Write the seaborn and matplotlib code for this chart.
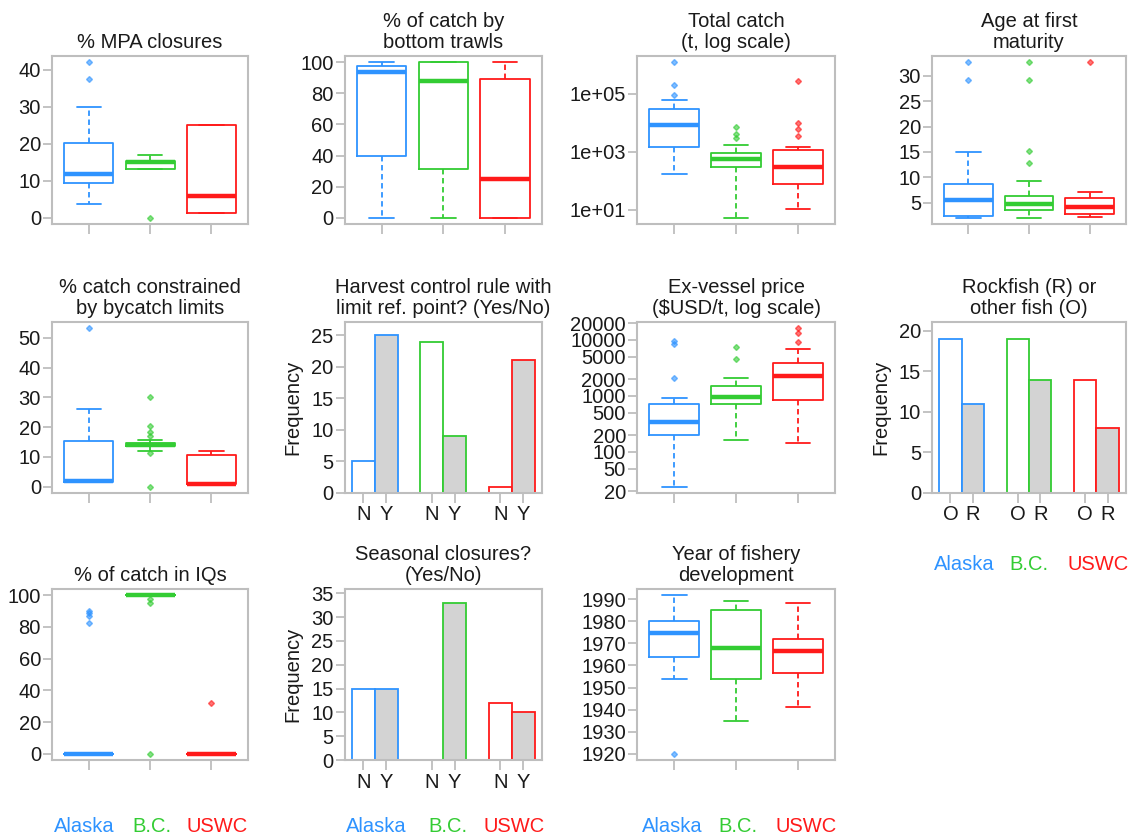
import numpy as np
import pandas as pd
import matplotlib
matplotlib.use("Agg")
import matplotlib.pyplot as plt
from matplotlib.ticker import FixedLocator, NullLocator
import seaborn as sns

# ---------------------------------------------------------------- data
regions = ["Alaska", "B.C.", "USWC"]
region_colors = ["#2E93FF", "#33CC33", "#FF1A1A"]

# % of area in MPA closures
mpa_alaska = [3.6, 6.5, 8.2, 9.3, 10.4, 11.2, 11.9, 13.5, 16.8, 20.2, 30.0, 37.5, 42.0]
mpa_bc = [0.0, 13.3, 13.3, 14.2, 15.0, 15.1, 15.2, 16.1, 16.9]
mpa_uswc = [1.2, 1.2, 5.9, 25.0, 25.0]

# % of catch taken by bottom trawls
trawl_alaska = [0, 12, 39.5, 71, 93.9, 96, 97.5, 99, 100]
trawl_bc = [0, 8, 31.6, 60, 88.2, 100, 100, 100, 100]
trawl_uswc = [0, 0, 0, 10, 24.7, 60, 89.2, 95, 100]

# total catch (t)
catch_alaska = [170, 400, 800, 1100, 1480, 2500, 4000, 6000, 8100, 12000, 17000,
                22000, 28500, 60000, 93000, 200000, 1200000]
catch_bc = [5.4, 60, 150, 250, 300, 380, 450, 520, 560, 620, 700, 800, 900,
            1750, 3100, 4100, 7300]
catch_uswc = [11, 25, 40, 55, 70, 80, 120, 170, 210, 250, 290, 380, 500, 650,
              850, 1120, 1480, 3500, 6000, 9500, 280000]

# age at first maturity (years)
age_alaska = [2.0, 2.1, 2.2, 2.3, 3.5, 4.5, 5.45, 6.0, 7.0, 8.7, 15.0, 29.2, 32.7]
age_bc = [2.0, 2.5, 3.0, 3.2, 3.4, 3.5, 3.8, 4.0, 4.3, 4.5, 4.7, 5.0, 5.3, 5.6,
          6.0, 6.2, 9.2, 12.9, 15.1, 29.2, 32.7]
age_uswc = [2.1, 2.4, 2.7, 3.5, 4.15, 5.0, 5.9, 7.1, 32.7]

# % of catch constrained by bycatch limits
bycatch_alaska = [1.7, 1.7, 1.7, 1.8, 1.9, 8.0, 15.5, 26.0, 53.2]
bycatch_bc = [0.0, 11.2, 12.1, 12.8, 13.2, 13.4, 13.6, 13.7, 13.8, 13.9, 14.0,
              14.0, 14.1, 14.2, 14.3, 14.4, 14.5, 14.5, 14.6, 15.2, 15.7, 16.9,
              18.3, 20.5, 30.2]
bycatch_uswc = [0.7, 0.8, 1.0, 10.8, 11.9]

# ex-vessel price ($USD/t)
price_alaska = [24, 60, 110, 160, 199, 230, 270, 310, 344, 400, 480, 600, 710,
                908, 2120, 8340, 9460]
price_bc = [162, 400, 600, 710, 800, 900, 960, 1050, 1250, 1490, 2120, 4640, 7500]
price_uswc = [147, 300, 500, 700, 860, 1100, 1500, 1900, 2240, 2600, 3000, 3500,
              3940, 6900, 9330, 13300, 16100]

# % of catch in individual quotas
iq_alaska = [0, 0, 0, 0, 0, 0, 0, 0, 0, 0, 0, 0, 0, 82.6, 87.0, 88.6, 90.0]
iq_bc = [0, 95.3, 97.5, 100, 100, 100, 100, 100, 100, 100, 100, 100, 100]
iq_uswc = [0, 0, 0, 0, 0, 0, 0, 0, 0, 32.2]

# year of fishery development
year_alaska = [1920, 1954, 1960, 1963.7, 1968, 1972, 1974.8, 1977, 1979, 1980.3,
               1984, 1988, 1991.8]
year_bc = [1935, 1945, 1953.9, 1962, 1967.8, 1976, 1985.3, 1988, 1989.1]
year_uswc = [1941.3, 1950, 1956.5, 1962, 1966.5, 1969, 1972.1, 1980, 1988.5]

# counts of stocks (No / Yes, Other / Rockfish)
hcr_no = [5, 24, 1]
hcr_yes = [25, 9, 21]
seasonal_no = [15, 0, 12]
seasonal_yes = [15, 33, 10]
other_fish = [19, 19, 14]
rockfish = [11, 14, 8]

# ---------------------------------------------------------------- style
sns.set_style("white")
plt.rcParams["font.family"] = ["Liberation Sans", "DejaVu Sans"]
FS = 14.5
plt.rcParams["font.size"] = FS

FRAME = "#BEBEBE"
TEXT = "#1A1A1A"
W, H = 1128, 839

fig = plt.figure(figsize=(W / 100, H / 100), dpi=100)
fig.patch.set_facecolor("white")

rows = [(56, 224), (322, 493), (589, 760)]
cols = [(52, 248), (344.5, 542), (637, 835), (932, 1126)]


def add_panel(r, c):
    top, bottom = rows[r]
    left, right = cols[c]
    return fig.add_axes([left / W, 1 - bottom / H, (right - left) / W, (bottom - top) / H])


def style_axes(ax, title):
    for s in ax.spines.values():
        s.set_visible(True)
        s.set_color(FRAME)
        s.set_linewidth(1.5)
    ax.tick_params(axis="both", colors=FRAME, labelcolor=TEXT, width=1.3,
                   labelsize=FS, direction="out")
    ax.tick_params(axis="y", left=True, length=6.5, pad=1.5)
    ax.tick_params(axis="x", bottom=True, length=7, pad=2)
    ax.set_title(title, fontsize=FS, pad=6, linespacing=1.12, color=TEXT)
    ax.grid(False)


def box_panel(ax, groups, title, yticks, ylabels, log=False):
    sizes = [len(g) for g in groups]
    df = pd.DataFrame({
        "region": np.repeat(regions, sizes),
        "value": np.concatenate([np.asarray(g, dtype=float) for g in groups]),
    })
    sns.boxplot(data=df, x="region", y="value", hue="region", order=regions,
                hue_order=regions, palette=region_colors, fill=False,
                legend=False, width=0.8, linewidth=1.3, whis=1.5, ax=ax,
                whiskerprops=dict(linestyle=(0, (3, 2))),
                medianprops=dict(linewidth=3.2),
                flierprops=dict(marker="D", markersize=3))
    for cont, col in zip(ax.containers, region_colors):
        for fl in cont.fliers:
            fl.set(marker="D", markersize=3, markerfacecolor=col,
                   markeredgecolor=col, alpha=0.6)
    vals = df["value"].to_numpy()
    if log:
        ax.set_yscale("log")
        lo, hi = np.log10(vals.min()), np.log10(vals.max())
        pad = 0.04 * (hi - lo)
        ax.set_ylim(10 ** (lo - pad), 10 ** (hi + pad))
    else:
        lo, hi = vals.min(), vals.max()
        pad = 0.04 * (hi - lo)
        ax.set_ylim(lo - pad, hi + pad)
    ax.set_xlim(-0.6, 2.6)
    ax.set_xticks(range(3))
    ax.set_xticklabels([])
    ax.yaxis.set_major_locator(FixedLocator(yticks))
    ax.yaxis.set_minor_locator(NullLocator())
    ax.set_yticklabels(ylabels)
    ax.set_xlabel("")
    ax.set_ylabel("")
    style_axes(ax, title)


def bar_panel(ax, first, second, levels, title, yticks, ytop):
    df = pd.DataFrame({
        "region": regions * 2,
        "answer": [levels[0]] * 3 + [levels[1]] * 3,
        "count": list(first) + list(second),
    })
    sns.barplot(data=df, x="region", y="count", hue="answer", order=regions,
                hue_order=levels, palette=["white", "#D3D3D3"], width=2 / 3,
                gap=0, errorbar=None, saturation=1, linewidth=1.3,
                edgecolor="black", legend=False, ax=ax)
    for cont in ax.containers:
        for bar, col in zip(cont, region_colors):
            bar.set_edgecolor(col)
    ax.set_xlim(-0.44, 2.44)
    ax.set_ylim(0, ytop)
    ax.set_xticks([i + d for i in range(3) for d in (-1 / 6, 1 / 6)])
    ax.set_xticklabels(levels * 3)
    ax.yaxis.set_major_locator(FixedLocator(yticks))
    ax.set_yticklabels([str(t) for t in yticks])
    ax.set_xlabel("")
    ax.set_ylabel("Frequency", fontsize=FS, labelpad=6, color=TEXT)
    style_axes(ax, title)


def num_labels(ticks):
    return [str(t) for t in ticks]


# ---------------------------------------------------------------- panels
ax = add_panel(0, 0)
t = [0, 10, 20, 30, 40]
box_panel(ax, [mpa_alaska, mpa_bc, mpa_uswc], "% MPA closures", t, num_labels(t))

ax = add_panel(0, 1)
t = [0, 20, 40, 60, 80, 100]
box_panel(ax, [trawl_alaska, trawl_bc, trawl_uswc], "% of catch by\nbottom trawls",
          t, num_labels(t))

ax = add_panel(0, 2)
box_panel(ax, [catch_alaska, catch_bc, catch_uswc], "Total catch\n(t, log scale)",
          [1e1, 1e3, 1e5], ["1e+01", "1e+03", "1e+05"], log=True)

ax = add_panel(0, 3)
t = [5, 10, 15, 20, 25, 30]
box_panel(ax, [age_alaska, age_bc, age_uswc], "Age at first\nmaturity", t, num_labels(t))

ax = add_panel(1, 0)
t = [0, 10, 20, 30, 40, 50]
box_panel(ax, [bycatch_alaska, bycatch_bc, bycatch_uswc],
          "% catch constrained\nby bycatch limits", t, num_labels(t))

ax = add_panel(1, 1)
bar_panel(ax, hcr_no, hcr_yes, ["N", "Y"],
          "Harvest control rule with\nlimit ref. point? (Yes/No)",
          [0, 5, 10, 15, 20, 25], 27.1)

ax = add_panel(1, 2)
t = [20, 50, 100, 200, 500, 1000, 2000, 5000, 10000, 20000]
box_panel(ax, [price_alaska, price_bc, price_uswc],
          "Ex-vessel price\n(\\$USD/t, log scale)", t, num_labels(t), log=True)

ax = add_panel(1, 3)
bar_panel(ax, other_fish, rockfish, ["O", "R"], "Rockfish (R) or\nother fish (O)",
          [0, 5, 10, 15, 20], 21.1)

ax = add_panel(2, 0)
t = [0, 20, 40, 60, 80, 100]
box_panel(ax, [iq_alaska, iq_bc, iq_uswc], "% of catch in IQs", t, num_labels(t))

ax = add_panel(2, 1)
bar_panel(ax, seasonal_no, seasonal_yes, ["N", "Y"], "Seasonal closures?\n(Yes/No)",
          [0, 5, 10, 15, 20, 25, 30, 35], 35.9)

ax = add_panel(2, 2)
t = [1920, 1930, 1940, 1950, 1960, 1970, 1980, 1990]
box_panel(ax, [year_alaska, year_bc, year_uswc], "Year of fishery\ndevelopment",
          t, num_labels(t))

# ---------------------------------------------------------------- region keys
key_rows = [
    (826, [84, 152, 217]),
    (826, [376, 448, 514]),
    (826, [672, 738, 806]),
    (565, [964, 1029, 1098]),
]
for y, xs in key_rows:
    for x, name, col in zip(xs, regions, region_colors):
        fig.text(x / W, 1 - y / H, name, color=col, fontsize=FS,
                 ha="center", va="center")

fig.savefig("out.png", dpi=100, facecolor="white")
